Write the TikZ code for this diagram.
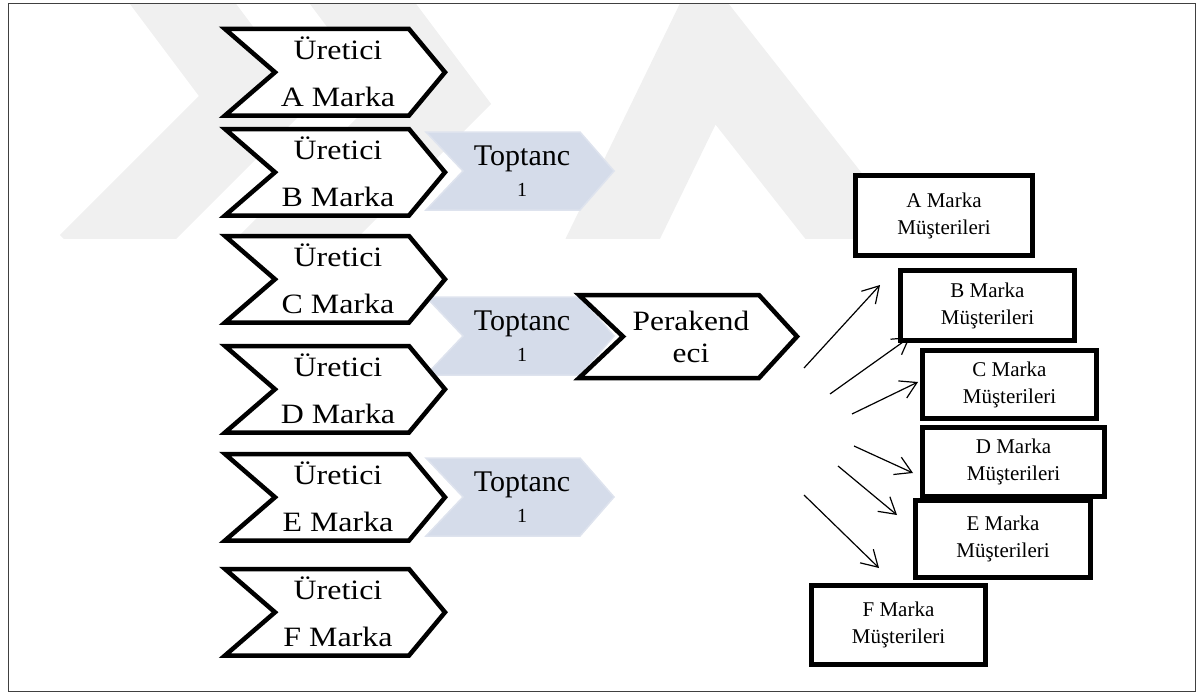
\documentclass[tikz,border=0pt]{standalone}
\usepackage{fontspec}
\setmainfont{Liberation Serif}
\usepackage{graphicx}
\usetikzlibrary{arrows.meta}

\definecolor{toptfill}{RGB}{213,220,234}
\definecolor{toptedge}{RGB}{222,227,238}
\definecolor{wmark}{RGB}{240,240,240}

% horizontally widened lettering used in the arrow shapes
\newcommand\wideu[1]{\scalebox{1.14}[1]{#1}}
\newcommand\widep[1]{\scalebox{1.12}[1]{#1}}

% producer chevron: #1 name, #2 top edge, #3 brand letter
\newcommand\uretici[3]{%
  \draw[uret] (225,#2) -- (409,#2) -- (445,#2+43.25) -- (409,#2+86.5)
    -- (225,#2+86.5) -- (275,#2+43.25) -- cycle;
  \node[uretext] (#1) at (338,#2+45)
    {\begin{tabular}{@{}c@{}}\wideu{Üretici}\\\wideu{#3 Marka}\end{tabular}};
}
% wholesaler chevron: #1 name, #2 top edge
\newcommand\toptanci[2]{%
  \draw[topt] (426,#2) -- (580,#2) -- (614,#2+39) -- (580,#2+78)
    -- (426,#2+78) -- (463,#2+39) -- cycle;
  \node[topttext] (#1) at (522,#2+42.3)
    {\begin{tabular}{@{}c@{}}Toptanc\\\fontsize{20}{31}\selectfont 1\end{tabular}};
}

\begin{document}
\begin{tikzpicture}[x=1pt,y=-1pt,
  uret/.style={draw=black, fill=white, line width=4.5pt, miter limit=10},
  uretext/.style={inner sep=0pt, font=\fontsize{28}{47}\selectfont},
  perakt/.style={inner sep=0pt, font=\fontsize{28}{32}\selectfont},
  topt/.style={fill=toptfill, draw=toptedge, line width=1.5pt},
  topttext/.style={inner sep=0pt, font=\fontsize{30}{31}\selectfont},
  musbox/.style={draw=black, line width=5pt, fill=white, inner sep=0pt,
    font=\fontsize{21}{27}\selectfont},
  flow/.style={line width=1.2pt,
    -{Straight Barb[length=16pt,width=19pt]}},
  wm/.style={draw=wmark, line width=85pt, miter limit=10}
]
\useasboundingbox (0,0) rectangle (1199,693);

% faint background emblem
\begin{scope}
  \clip (8,4) rectangle (1195,238);
  \draw[wm] (150,-40) -- (255,100) -- (90,265);
  \draw[wm] (330,-40) -- (435,100) -- (270,265);
  \draw[wm] (600,265) -- (707,45) -- (880,265);
\end{scope}

% outer frame
\draw[black!75, line width=1pt] (8,4) rectangle (1195,691);

% wholesalers (behind the producers and the retailer)
\toptanci{tb}{132}
\toptanci{tc}{297}
\toptanci{te}{458}

% producers
\uretici{ua}{29}{A}
\uretici{ub}{129}{B}
\uretici{uc}{236}{C}
\uretici{ud}{346}{D}
\uretici{ue}{454}{E}
\uretici{uf}{569}{F}

% retailer
\draw[uret] (579,295) -- (759,295) -- (797,336.5) -- (759,378)
  -- (579,378) -- (623,336.5) -- cycle;
\node[perakt] (per) at (691,339.6)
  {\begin{tabular}{@{}c@{}}\widep{Perakend}\\\widep{eci}\end{tabular}};

% arrows towards the customer groups
\coordinate (s1) at (804,368); \coordinate (e1) at (880,285);
\coordinate (s2) at (830,394); \coordinate (e2) at (910,337);
\coordinate (s3) at (852,414); \coordinate (e3) at (918,382);
\coordinate (s4) at (854,446); \coordinate (e4) at (913,473);
\coordinate (s5) at (838,466); \coordinate (e5) at (897,515);
\coordinate (s6) at (804,495); \coordinate (e6) at (879,568);
\foreach \i in {1,...,6} \draw[flow] (s\i) -- (e\i);

% customer groups
\node[musbox, minimum width=177pt, minimum height=80pt] (ma) at (944,215.5)
  {\begin{tabular}{@{}c@{}}A Marka\\Müşterileri\end{tabular}};
\node[musbox, minimum width=174pt, minimum height=70pt] (mb) at (987.5,305.5)
  {\begin{tabular}{@{}c@{}}B Marka\\Müşterileri\end{tabular}};
\node[musbox, minimum width=174pt, minimum height=68pt] (mc) at (1009.5,384.5)
  {\begin{tabular}{@{}c@{}}C Marka\\Müşterileri\end{tabular}};
\node[musbox, minimum width=182pt, minimum height=69pt] (md) at (1013.5,462)
  {\begin{tabular}{@{}c@{}}D Marka\\Müşterileri\end{tabular}};
\node[musbox, minimum width=175pt, minimum height=77pt] (me) at (1003,539)
  {\begin{tabular}{@{}c@{}}E Marka\\Müşterileri\end{tabular}};
\node[musbox, minimum width=174pt, minimum height=79pt] (mf) at (898.5,625)
  {\begin{tabular}{@{}c@{}}F Marka\\Müşterileri\end{tabular}};
\end{tikzpicture}
\end{document}
